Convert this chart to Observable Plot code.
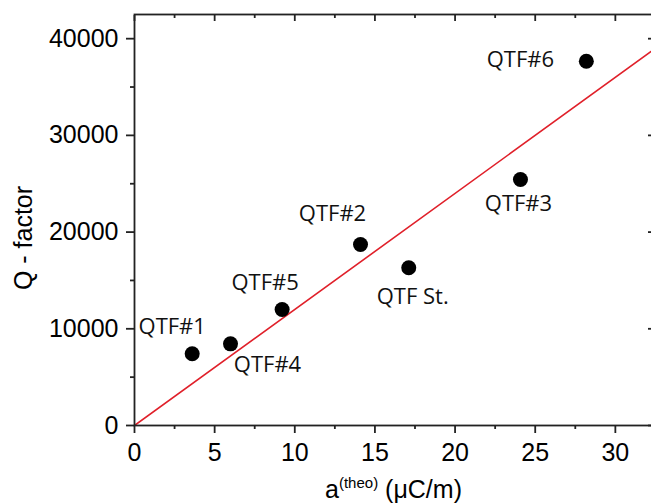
<!DOCTYPE html>
<html><head><meta charset="utf-8">
<script src="https://cdn.jsdelivr.net/npm/d3@7"></script>
<script src="https://cdn.jsdelivr.net/npm/@observablehq/plot@0.6"></script>
<style>html,body{margin:0;padding:0;background:#fff}svg{display:block}</style>
</head><body><div id="chart"></div>
<script>
// ---- data ----
const names   = ["QTF#1", "QTF#4", "QTF#5", "QTF#2", "QTF St.", "QTF#3", "QTF#6"];
const aTheo   = [3.60, 5.99, 9.21, 14.10, 17.11, 24.08, 28.19];
const qFactor = [7415, 8445, 11995, 18718, 16308, 25440, 37673];
const fitSlope = 1200;           // linear fit through origin
const fitXs = [0, 33];
const xTicks = [0, 5, 10, 15, 20, 25, 30];
const xMinor = [2.5, 7.5, 12.5, 17.5, 22.5, 27.5, 32.5];
const yTicks = [0, 10000, 20000, 30000, 40000];
const yMinor = [5000, 15000, 25000, 35000];
const xDomain = [0, 32.38];
const yDomain = [0, 42500];
// label offsets (pixels, relative to each point)
const labelDx = [-20, 37, -17, -28, 4, -2, -66];
const labelDy = [-27, 21, -27, -31, 29, 24, -1];

const points = names.map((n, i) => ({name: n, x: aTheo[i], y: qFactor[i]}));
const fit = fitXs.map(x => ({x, y: fitSlope * x}));

const axisColor = "#222";
const tickFont = 25;

const labelMarks = points.map((p, i) =>
  Plot.text([p], {x: "x", y: "y", text: "name", dx: labelDx[i], dy: labelDy[i],
    fontFamily: "Open Sans", fontSize: 22, fill: "#111", textAnchor: "middle"}));

const plot = Plot.plot({
  width: 651, height: 504,
  marginLeft: 134, marginRight: -2, marginTop: 14, marginBottom: 79,
  style: {fontFamily: "'Liberation Sans', Arial, sans-serif", background: "#fff", color: "#000"},
  x: {domain: xDomain, label: null},
  y: {domain: yDomain, label: null},
  marks: [
    Plot.line(fit, {x: "x", y: "y", stroke: "#e0202a", strokeWidth: 1.6, clip: true}),
    Plot.dot(points, {x: "x", y: "y", r: 7.5, fill: "#000", stroke: "none"}),
    ...labelMarks,
    // left axis
    Plot.axisY({anchor: "left", ticks: yTicks, tickSize: 8, tickPadding: 8, fontSize: tickFont,
      tickFormat: d3.format("d"), stroke: axisColor, strokeWidth: 1.8, fill: "#000", label: null}),
    Plot.axisY({anchor: "left", ticks: yMinor, tickSize: 4, tickFormat: () => "", stroke: axisColor, strokeWidth: 1.8, label: null}),
    // right axis (inward ticks)
    Plot.axisY({anchor: "right", ticks: yTicks, tickSize: -6, tickFormat: () => "", stroke: axisColor, strokeWidth: 1.8, label: null}),
    Plot.axisY({anchor: "right", ticks: yMinor, tickSize: -3, tickFormat: () => "", stroke: axisColor, strokeWidth: 1.8, label: null}),
    // bottom axis
    Plot.axisX({anchor: "bottom", ticks: xTicks, tickSize: 8, tickPadding: 10, fontSize: tickFont,
      tickFormat: d3.format("d"), stroke: axisColor, strokeWidth: 1.8, fill: "#000", label: null}),
    Plot.axisX({anchor: "bottom", ticks: xMinor.filter(v => v < xDomain[1]), tickSize: 4, tickFormat: () => "", stroke: axisColor, strokeWidth: 1.8, label: null}),
    // top axis (inward ticks)
    Plot.axisX({anchor: "top", ticks: xTicks, tickSize: -6, tickFormat: () => "", stroke: axisColor, strokeWidth: 1.8, label: null}),
    Plot.axisX({anchor: "top", ticks: xMinor.filter(v => v < xDomain[1]), tickSize: -3, tickFormat: () => "", stroke: axisColor, strokeWidth: 1.8, label: null}),
    Plot.frame({stroke: axisColor, strokeWidth: 1.8}),
    // y-axis title
    Plot.text(["Q - factor"], {frameAnchor: "left", text: d => d, rotate: -90, dx: -111, dy: 18,
      fontSize: 25, fill: "#000", textAnchor: "middle"})
  ]
});

// x-axis title with superscript
const svg = d3.select(plot);
const xs = plot.scale("x");
const cx = (xs.range[0] + xs.range[1]) / 2;
const t = svg.append("text")
  .attr("x", cx).attr("y", 498)
  .attr("text-anchor", "middle")
  .attr("font-size", 25)
  .attr("fill", "#000");
t.append("tspan").text("a");
t.append("tspan").attr("font-size", 15).attr("dy", -10).text("(theo)");
t.append("tspan").attr("dy", 10).text(" (\u03BCC/m)");

document.getElementById("chart").append(plot);
</script>
</body></html>
